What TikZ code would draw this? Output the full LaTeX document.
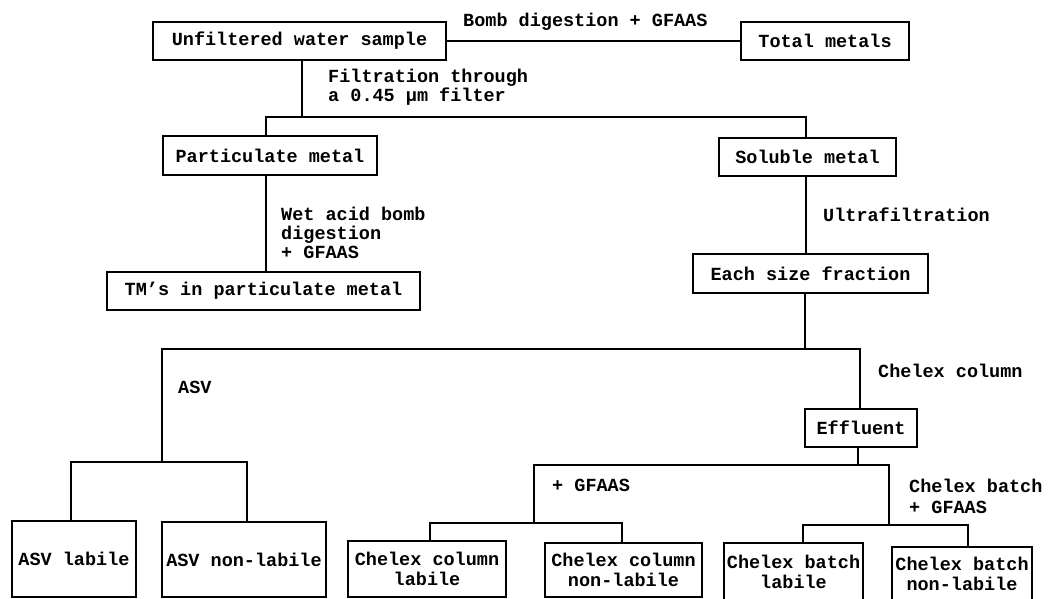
\documentclass[tikz,border=0pt]{standalone}
\usepackage{fontspec}
\newfontfamily\cour{Liberation Mono}
\begin{document}
\begin{tikzpicture}[x=1pt,y=-1pt,
  txt/.style={font=\cour\bfseries\fontsize{18.5}{19.5}\selectfont},
  box/.style={txt, draw, line width=2.6pt, inner sep=0pt, align=center},
  lbl/.style={txt, inner sep=0pt, anchor=west, align=left},
  con/.style={line width=2.5pt}]
\useasboundingbox (0,0) rectangle (1059,598);
% boxes
\node[box, minimum width=293, minimum height=38] (U) at (299.5,41) {Unfiltered water sample};
\node[box, minimum width=168, minimum height=38] (T) at (825,41) {Total metals};
\node[box, minimum width=214, minimum height=39] (P) at (270,155.5) {Particulate metal};
\node[box, minimum width=177, minimum height=38] (S) at (807.5,157) {Soluble metal};
\node[box, minimum width=313, minimum height=38] (TM) at (263.5,291) {TM’s in particulate metal};
\node[box, minimum width=235, minimum height=39] (E) at (810.5,273.5) {Each size fraction};
\node[box, minimum width=112, minimum height=38] (Eff) at (861,428) {Effluent};
\node[box, minimum width=124, minimum height=76] (AL) at (74,559) {ASV labile};
\node[box, minimum width=164, minimum height=75] (AN) at (244,559.5) {ASV non-labile};
\node[box, minimum width=158, minimum height=56] (CL) at (427,569) {Chelex column\\labile};
\node[box, minimum width=157, minimum height=54] (CN) at (623.5,570) {Chelex column\\non-labile};
\node[box, minimum width=139, minimum height=58] (BL) at (793.5,572) {Chelex batch\\labile};
\node[box, minimum width=140, minimum height=54] (BN) at (962,574) {Chelex batch\\non-labile};
% labels
\node[lbl] (l1) at (463,22) {Bomb digestion + GFAAS};
\node[lbl, font=\cour\bfseries\fontsize{18.5}{18.5}\selectfont] (l2) at (328,87) {Filtration through\\a 0.45 μm filter};
\node[lbl, font=\cour\bfseries\fontsize{18.5}{19}\selectfont] (l3) at (281,233) {Wet acid bomb\\digestion\\+ GFAAS};
\node[lbl] (l4) at (823,215) {Ultrafiltration};
\node[lbl] (l5) at (178,387) {ASV};
\node[lbl] (l6) at (878,371) {Chelex column};
\node[lbl] (l7) at (552,485) {+ GFAAS};
\node[lbl, font=\cour\bfseries\fontsize{18.5}{21.5}\selectfont] (l8) at (909,496.5) {Chelex batch\\+ GFAAS};
% junction coordinates
\coordinate (j1) at (302,117);
\coordinate (p1) at (266,117);
\coordinate (s1) at (806,117);
\coordinate (j2) at (805,349);
\coordinate (a1) at (162,349);
\coordinate (f1) at (860,349);
\coordinate (a2) at (162,462);
\coordinate (al) at (71,462);
\coordinate (an) at (247,462);
\coordinate (e1) at (858,465);
\coordinate (c1) at (534,465);
\coordinate (b1) at (889,465);
\coordinate (c2) at (534,523);
\coordinate (cl) at (430,523);
\coordinate (cn) at (622,523);
\coordinate (b2) at (889,525);
\coordinate (bl) at (803,525);
\coordinate (bn) at (968,525);
% connectors
\draw[con] (U.east) -- (T.west);
\draw[con] (U.south -| j1) -- (j1);
\draw[con] (P.north -| p1) -- (p1) -- (s1) -- (S.north -| s1);
\draw[con] (P.south -| p1) -- (TM.north -| p1);
\draw[con] (S.south -| s1) -- (E.north -| s1);
\draw[con] (E.south -| j2) -- (j2);
\draw[con] (a2) -- (a1) -- (f1) -- (Eff.north -| f1);
\draw[con] (AL.north -| al) -- (al) -- (an) -- (AN.north -| an);
\draw[con] (Eff.south -| e1) -- (e1);
\draw[con] (c2) -- (c1) -- (b1) -- (b2);
\draw[con] (CL.north -| cl) -- (cl) -- (cn) -- (CN.north -| cn);
\draw[con] (BL.north -| bl) -- (bl) -- (bn) -- (BN.north -| bn);
\end{tikzpicture}
\end{document}
